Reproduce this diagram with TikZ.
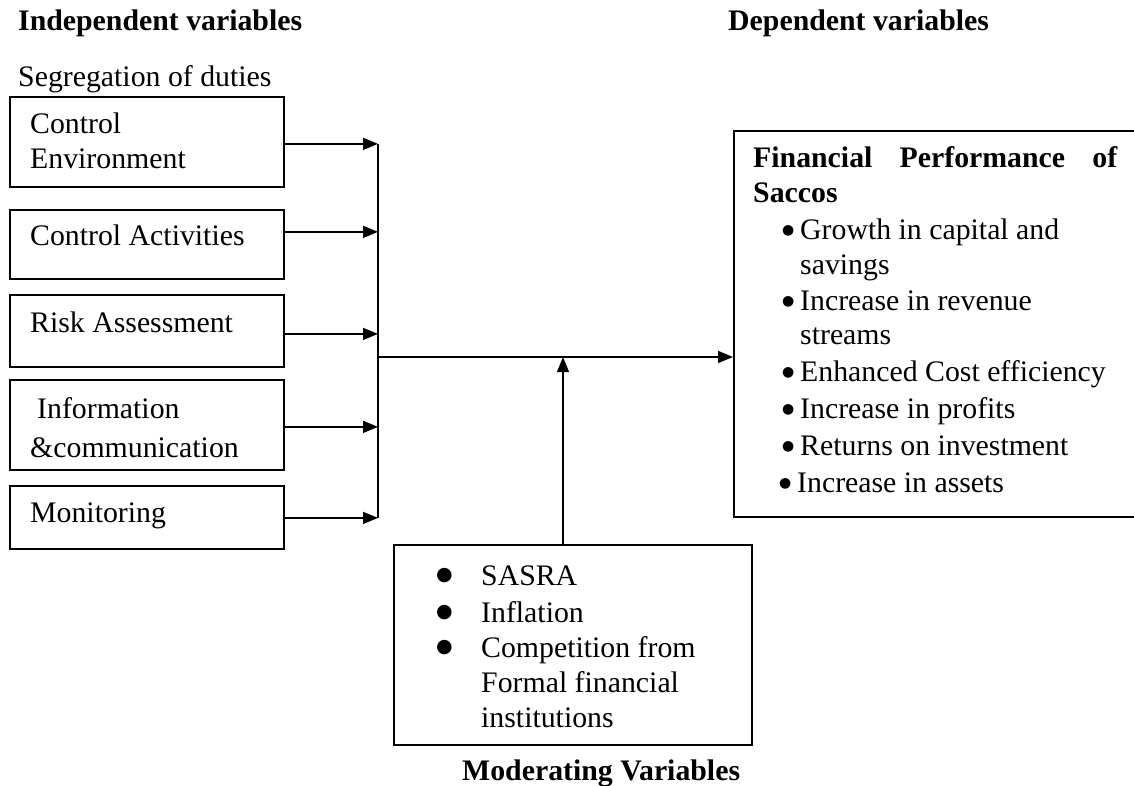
\documentclass[tikz,border=0pt]{standalone}
\usepackage{fontspec}
\setmainfont{Liberation Serif}
\newfontfamily\dejavu{DejaVu Sans}
\usetikzlibrary{arrows.meta}
\newcommand{\rbul}{{\dejavu\fontsize{14}{14}\selectfont ●}}
\newcommand{\mbul}{{\dejavu\fontsize{19}{19}\selectfont ●}}
\begin{document}
\begin{tikzpicture}[x=1pt,y=-1pt,
  box/.style={draw,line width=1.8pt,anchor=north west,inner sep=0pt},
  txt/.style={anchor=base west,inner sep=0pt,font=\fontsize{29.8}{36}\selectfont},
  bold/.style={anchor=base west,inner sep=0pt,font=\fontsize{29.8}{36}\selectfont\bfseries},
  bul/.style={anchor=base west,inner sep=0pt},
  arr/.style={line width=1.5pt,-{Triangle[length=15pt,width=12pt]}},
  thinarr/.style={line width=1.1pt,-{Triangle[length=15pt,width=12pt]}},
  bus/.style={line width=1.5pt}]
\useasboundingbox (0,0) rectangle (1134,786);
% headers
\node[bold] (hind) at (18,31) {Independent variables};
\node[bold] (hdep) at (728,31) {Dependent variables};
\node[txt] (seg) at (18,87) {Segregation of duties};
% left boxes
\node[box,minimum width=274pt,minimum height=90pt] (b1) at (9,96) {};
\node[box,minimum width=274pt,minimum height=69pt] (b2) at (9,209) {};
\node[box,minimum width=274pt,minimum height=72pt] (b3) at (9,294) {};
\node[box,minimum width=274pt,minimum height=90pt] (b4) at (9,379) {};
\node[box,minimum width=274pt,minimum height=63pt] (b5) at (9,485) {};
\node[txt] (t1a) at (30,134) {Control};
\node[txt] (t1b) at (30,169) {Environment};
\node[txt] (t2) at (30,245) {Control Activities};
\node[txt] (t3) at (30,332) {Risk Assessment};
\node[txt] (t4a) at (37,418) {Information};
\node[txt] (t4b) at (30,457) {\&communication};
\node[txt] (t5) at (30,522) {Monitoring};
% right box
\node[box,minimum width=420pt,minimum height=386pt] (fp) at (733,130) {};
\node[bold] (f1) at (753,168) {\makebox[364pt][s]{Financial Performance of}};
\node[bold] (f2) at (753,203) {Saccos};
\node[bul] (d1) at (782,235) {\rbul};
\node[txt] (g1a) at (800,240) {Growth in capital and};
\node[txt] (g1b) at (800,274) {savings};
\node[bul] (d2) at (782,305) {\rbul};
\node[txt] (g2a) at (800,310) {Increase in revenue};
\node[txt] (g2b) at (800,344) {streams};
\node[bul] (d3) at (782,376) {\rbul};
\node[txt] (g3) at (800,381) {Enhanced Cost efficiency};
\node[bul] (d4) at (782,413) {\rbul};
\node[txt] (g4) at (800,418) {Increase in profits};
\node[bul] (d5) at (782,450) {\rbul};
\node[txt] (g5) at (800,455) {Returns on investment};
\node[bul] (d6) at (779,487) {\rbul};
\node[txt] (g6) at (797,492) {Increase in assets};
% moderating box
\node[bul] (m1) at (436,580) {\mbul};
\node[box,minimum width=358pt,minimum height=200pt] (mod) at (393,544) {};
\node[txt] (s1) at (481,585) {SASRA};
\node[bul] (m2) at (436,617) {\mbul};
\node[txt] (s2) at (481,622) {Inflation};
\node[bul] (m3) at (436,652) {\mbul};
\node[txt] (s3a) at (481,657) {Competition from};
\node[txt] (s3b) at (481,692) {Formal financial};
\node[txt] (s3c) at (481,727) {institutions};
\node[bold] (hmod) at (462,780) {Moderating Variables};
% connectors
\coordinate (busx) at (378,0);
\coordinate (j) at (378,357);
\coordinate (mj) at (563,357);
\draw[arr] ([yshift=-2pt]b1.east) -- ([yshift=-2pt]b1.east -| busx);
\draw[arr] ([yshift=12.5pt]b2.east) -- ([yshift=12.5pt]b2.east -| busx);
\draw[arr] ([yshift=-3pt]b3.east) -- ([yshift=-3pt]b3.east -| busx);
\draw[arr] ([yshift=-2pt]b4.east) -- ([yshift=-2pt]b4.east -| busx);
\draw[arr] ([yshift=-0.5pt]b5.east) -- ([yshift=-0.5pt]b5.east -| busx);
\draw[bus] ([yshift=-2pt]b1.east -| busx) -- ([yshift=-0.5pt]b5.east -| busx);
\draw[arr] (j) -- (j -| fp.west);
\draw[thinarr] (mod.north -| mj) -- (mj);
\end{tikzpicture}
\end{document}
